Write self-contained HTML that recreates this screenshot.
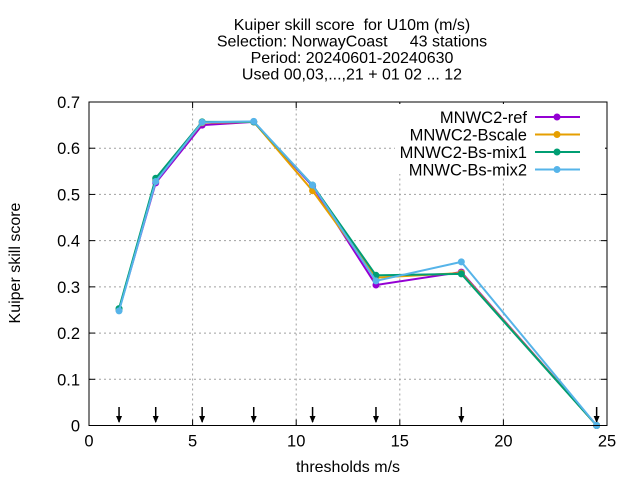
<!DOCTYPE html>
<html><head><meta charset="utf-8"><style>
body{margin:0;background:#fff;font-family:"Liberation Sans",sans-serif}
text{font-family:"Liberation Sans",sans-serif;white-space:pre}
</style></head><body>
<svg id="c" width="640" height="480"></svg>
<script>
const xs=[1.45,3.22,5.46,7.95,10.79,13.85,17.97,24.5];
const refV=[0.25,0.525,0.65,0.657,0.518,0.304,0.332,0.0];
const bscaleV=[0.251,0.53,0.655,0.657,0.508,0.32,0.33,0.0];
const mix1V=[0.253,0.535,0.657,0.657,0.52,0.325,0.328,0.0];
const mix2V=[0.248,0.528,0.656,0.658,0.52,0.313,0.354,0.0];
const names=["MNWC2-ref","MNWC2-Bscale","MNWC2-Bs-mix1","MNWC-Bs-mix2"];
const colors=["#9400d3","#e69f00","#009e73","#56b4e9"];
const xticks=[0,5,10,15,20,25];
const yticks=[0,0.1,0.2,0.3,0.4,0.5,0.6,0.7];
const yLabels=["0","0.1","0.2","0.3","0.4","0.5","0.6","0.7"];
const X0=89,X1=607,Y0=425.5,Y1=102;
const xs_=v=>X0+(X1-X0)*v/25, ys_=v=>Y0+(Y1-Y0)*v/0.7;
const svg=document.getElementById('c');const NS='http://www.w3.org/2000/svg';
function mk(t,a,p){const e=document.createElementNS(NS,t);for(const k in a)e.setAttribute(k,a[k]);(p||svg).appendChild(e);return e;}
xticks.forEach(v=>{if(v>0&&v<25){const g=mk('line',{x1:xs_(v),x2:xs_(v),y1:Y0,y2:Y1,stroke:'#a0a0a0','stroke-dasharray':'2,3'});

}
const t=mk('text',{x:xs_(v),y:Y0+21,'text-anchor':'middle','font-size':16.5});t.textContent=v;


mk('line',{x1:xs_(v),x2:xs_(v),y1:Y0,y2:Y0-6,stroke:'#000'});mk('line',{x1:xs_(v),x2:xs_(v),y1:Y1,y2:Y1+6,stroke:'#000'});});
yticks.forEach((v,i)=>{if(v>0&&v<0.7){const g=mk('line',{x1:X0,x2:X1,y1:ys_(v),y2:ys_(v),stroke:'#a0a0a0','stroke-dasharray':'2,3'});

}
const t=mk('text',{x:X0-9,y:ys_(v)+6,'text-anchor':'end','font-size':16.5});t.textContent=yLabels[i];


mk('line',{x1:X0,x2:X0+6,y1:ys_(v),y2:ys_(v),stroke:'#000'});mk('line',{x1:X1,x2:X1-6,y1:ys_(v),y2:ys_(v),stroke:'#000'});});
const lb=mk('rect',{x:395,y:104,width:210,height:70,fill:'#fff'});


xs.forEach(v=>{const a=mk('line',{x1:xs_(v),x2:xs_(v),y1:407,y2:422,stroke:'#000','stroke-width':1.5});


mk('path',{d:`M${xs_(v)-3},416 L${xs_(v)+3},416 L${xs_(v)},423 Z`,fill:'#000'});});
[refV,bscaleV,mix1V,mix2V].forEach((vals,si)=>{
const g=mk('g',{});


mk('polyline',{points:xs.map((x,i)=>xs_(x)+','+ys_(vals[i])).join(' '),fill:'none',stroke:colors[si],'stroke-width':2},g);
xs.forEach((x,i)=>{const p=mk('circle',{cx:xs_(x),cy:ys_(vals[i]),r:3.5,fill:colors[si]},g);

});
const ly=117+si*17.5;
const lt=mk('text',{x:527,y:ly+6,'text-anchor':'end','font-size':16.5});lt.textContent=names[si];


mk('line',{x1:535,x2:580,y1:ly,y2:ly,stroke:colors[si],'stroke-width':2});
mk('circle',{cx:557,cy:ly,r:3.5,fill:colors[si]});
});
const fr=mk('rect',{x:X0,y:Y1,width:X1-X0,height:Y0-Y1,fill:'none',stroke:'#000'});


const titles=["Kuiper skill score  for U10m (m/s)","Selection: NorwayCoast     43 stations","Period: 20240601-20240630","Used 00,03,...,21 + 01 02 ... 12"];
titles.forEach((s,i)=>{const t=mk('text',{x:352,y:30+i*16.5,'text-anchor':'middle','font-size':16});t.textContent=s;

});
const xt=mk('text',{x:348,y:472,'text-anchor':'middle','font-size':16});xt.textContent='thresholds m/s';


const yt=mk('text',{x:20,y:263,'text-anchor':'middle','font-size':16,transform:'rotate(-90 20 263)'});yt.textContent='Kuiper skill score';


</script>
</body></html>
